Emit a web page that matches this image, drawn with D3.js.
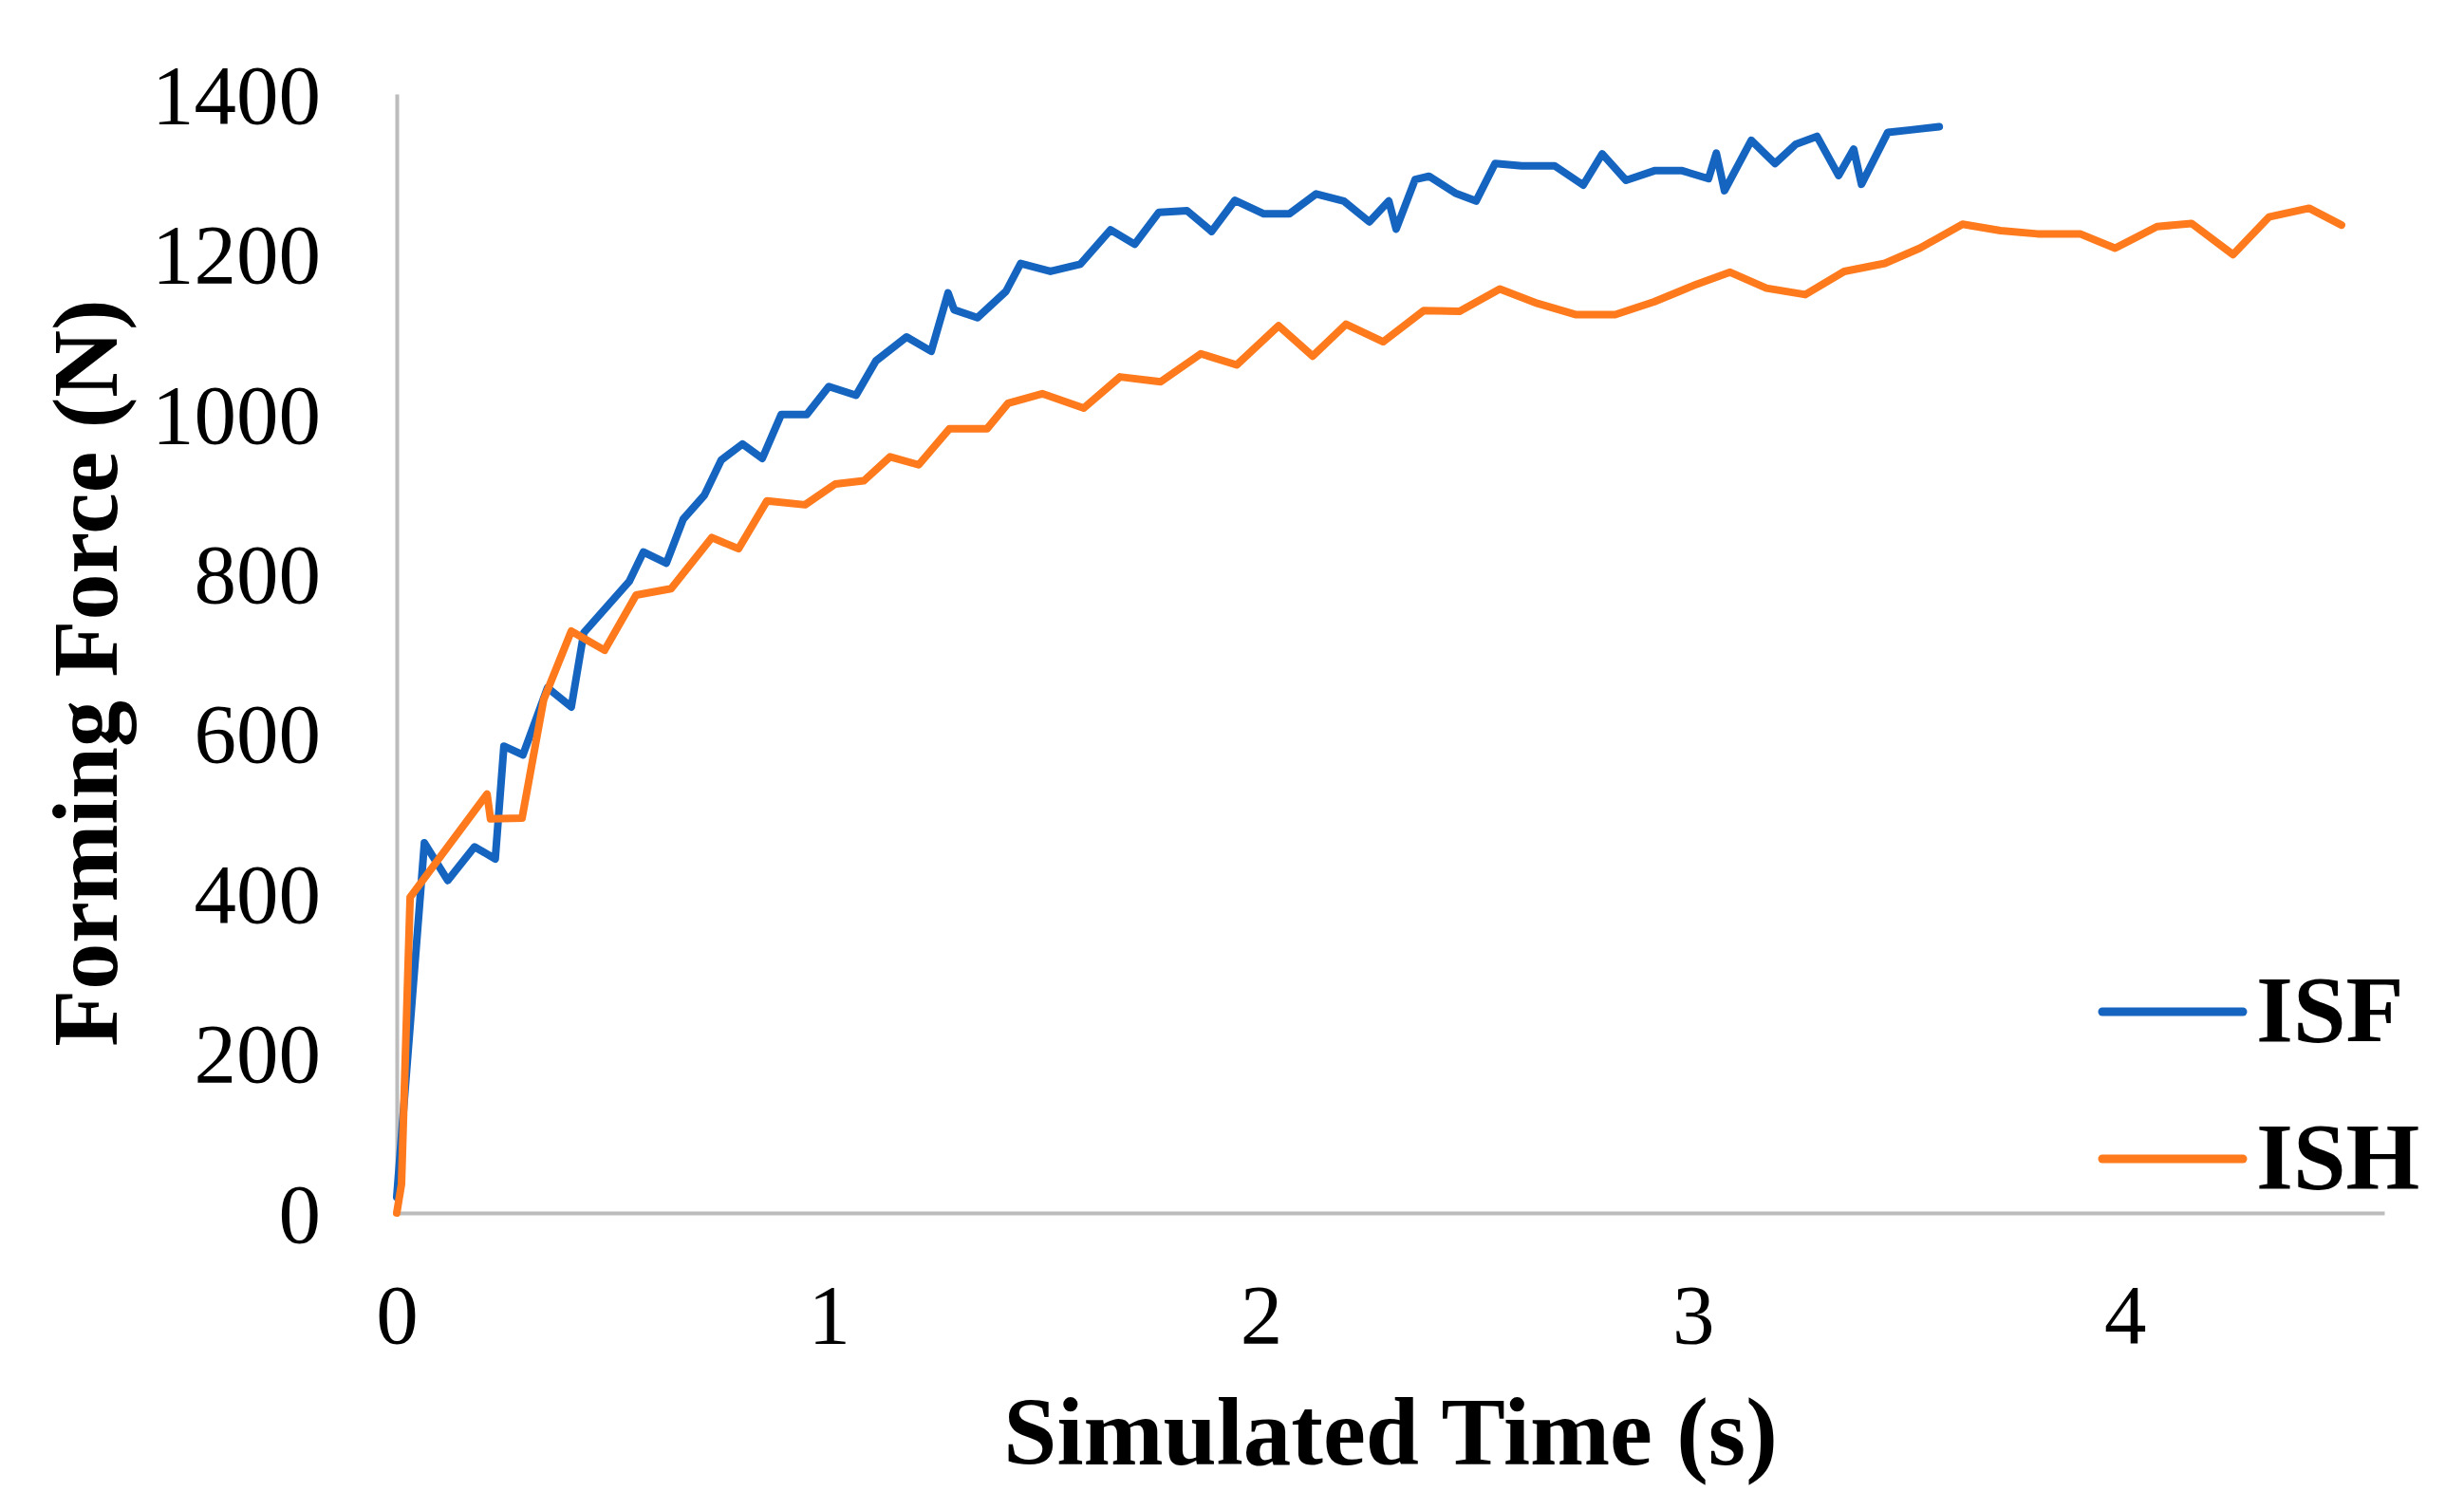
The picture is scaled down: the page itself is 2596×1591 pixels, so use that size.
<!DOCTYPE html>
<html>
<head>
<meta charset="utf-8">
<script src="https://cdn.jsdelivr.net/npm/d3@7"></script>
<style>
  html, body { margin: 0; padding: 0; background: #ffffff; }
  svg { display: block; }
</style>
</head>
<body>
<svg id="chart" width="2596" height="1591"></svg>
<script>
// ---- data ----
const isfTime = [0, 0.064, 0.118, 0.18, 0.228, 0.248, 0.292, 0.349, 0.404, 0.433, 0.538, 0.571, 0.624, 0.663, 0.712, 0.751, 0.8, 0.846, 0.89, 0.949, 1.0, 1.063, 1.109, 1.18, 1.237, 1.276, 1.29, 1.344, 1.41, 1.444, 1.513, 1.582, 1.652, 1.708, 1.764, 1.829, 1.886, 1.94, 2.007, 2.066, 2.128, 2.192, 2.251, 2.296, 2.313, 2.357, 2.389, 2.45, 2.498, 2.542, 2.604, 2.68, 2.746, 2.79, 2.845, 2.911, 2.975, 3.036, 3.054, 3.073, 3.135, 3.19, 3.238, 3.287, 3.337, 3.372, 3.39, 3.451, 3.504, 3.57];
const isfForce = [20, 463, 416, 458, 443, 584, 573, 657, 633, 726, 790, 827, 813, 868, 898, 942, 962, 944, 999, 999, 1034, 1023, 1066, 1096, 1078, 1151, 1130, 1120, 1153, 1188, 1178, 1187, 1230, 1212, 1252, 1254, 1228, 1267, 1250, 1250, 1275, 1266, 1240, 1266, 1231, 1293, 1297, 1276, 1266, 1313, 1310, 1310, 1286, 1325, 1292, 1304, 1304, 1294, 1326, 1279, 1342, 1313, 1337, 1347, 1298, 1331, 1287, 1352, 1355, 1359];

const ishTime = [0, 0.011, 0.031, 0.209, 0.217, 0.29, 0.34, 0.404, 0.481, 0.554, 0.635, 0.729, 0.791, 0.857, 0.945, 1.015, 1.081, 1.142, 1.208, 1.279, 1.366, 1.415, 1.494, 1.59, 1.674, 1.768, 1.861, 1.944, 2.041, 2.12, 2.197, 2.283, 2.377, 2.46, 2.553, 2.64, 2.728, 2.82, 2.91, 3.0, 3.086, 3.17, 3.26, 3.35, 3.444, 3.525, 3.624, 3.712, 3.797, 3.896, 3.977, 4.074, 4.154, 4.25, 4.333, 4.426, 4.501];
const ishForce = [0, 36, 395, 524, 493, 494, 642, 728, 704, 773, 781, 845, 831, 891, 886, 912, 916, 946, 936, 981, 981, 1013, 1025, 1007, 1046, 1040, 1075, 1061, 1110, 1072, 1112, 1090, 1129, 1128, 1156, 1138, 1124, 1124, 1140, 1160, 1177, 1157, 1149, 1178, 1188, 1207, 1237, 1229, 1225, 1225, 1207, 1234, 1238, 1199, 1246, 1257, 1236];

const xTicks = [0, 1, 2, 3, 4];
const yTicks = [0, 200, 400, 600, 800, 1000, 1200, 1400];
const seriesNames = ["ISF", "ISH"];
const seriesColors = ["#1565c0", "#ff7a1c"];

// ---- layout ----
const svg = d3.select("#chart");
const X0 = 418, X1 = 2512, Y0 = 1278, Y1 = 99;
const x = d3.scaleLinear().domain([0, 4.6]).range([X0, X1]);
const y = d3.scaleLinear().domain([0, 1400]).range([Y0, Y1]);

const axisColor = "#bcbcbc";
const serif = "'Liberation Serif', 'Times New Roman', Times, serif";

// y axis
const gy = svg.append("g").attr("transform", `translate(${X0},0)`)
  .call(d3.axisLeft(y).tickValues(yTicks).tickSize(0).tickSizeOuter(0).tickPadding(80).tickFormat(d3.format("d")));
gy.select(".domain").attr("stroke", axisColor).attr("stroke-width", 4);
gy.selectAll("text").attr("font-family", serif).attr("font-size", 89).attr("fill", "#000").attr("dy", "0.34em");

// x axis
const gx = svg.append("g").attr("transform", `translate(0,${Y0})`)
  .call(d3.axisBottom(x).tickValues(xTicks).tickSize(0).tickSizeOuter(0).tickPadding(74).tickFormat(d3.format("d")));
gx.select(".domain").attr("stroke", axisColor).attr("stroke-width", 4);
gx.selectAll("text").attr("font-family", serif).attr("font-size", 89).attr("fill", "#000");

// lines
const line = d3.line().x(d => x(d[0])).y(d => y(d[1]));
const isfData = isfTime.map((t, i) => [t, isfForce[i]]);
const ishData = ishTime.map((t, i) => [t, ishForce[i]]);

svg.append("path").datum(isfData).attr("d", line)
  .attr("fill", "none").attr("stroke", seriesColors[0]).attr("stroke-width", 8)
  .attr("stroke-linejoin", "round").attr("stroke-linecap", "round");
svg.append("path").datum(ishData).attr("d", line)
  .attr("fill", "none").attr("stroke", seriesColors[1]).attr("stroke-width", 8)
  .attr("stroke-linejoin", "round").attr("stroke-linecap", "round");

// axis titles
svg.append("text")
  .attr("transform", "translate(123,709) rotate(-90)")
  .attr("text-anchor", "middle")
  .attr("font-family", serif).attr("font-weight", "bold").attr("font-size", 98)
  .attr("fill", "#000")
  .text("Forming Force (N)");

svg.append("text")
  .attr("x", 1465).attr("y", 1543)
  .attr("text-anchor", "middle")
  .attr("font-family", serif).attr("font-weight", "bold").attr("font-size", 101)
  .attr("fill", "#000")
  .text("Simulated Time (s)");

// legend
const legendY = [1066, 1221];
const leg = svg.append("g");
seriesNames.forEach((name, i) => {
  leg.append("line")
    .attr("x1", 2215).attr("x2", 2363).attr("y1", legendY[i]).attr("y2", legendY[i])
    .attr("stroke", seriesColors[i]).attr("stroke-width", 9).attr("stroke-linecap", "round");
  leg.append("text")
    .attr("x", 2377).attr("y", legendY[i] + 31)
    .attr("font-family", serif).attr("font-weight", "bold").attr("font-size", 100)
    .attr("fill", "#000")
    .text(name);
});
</script>
</body>
</html>
